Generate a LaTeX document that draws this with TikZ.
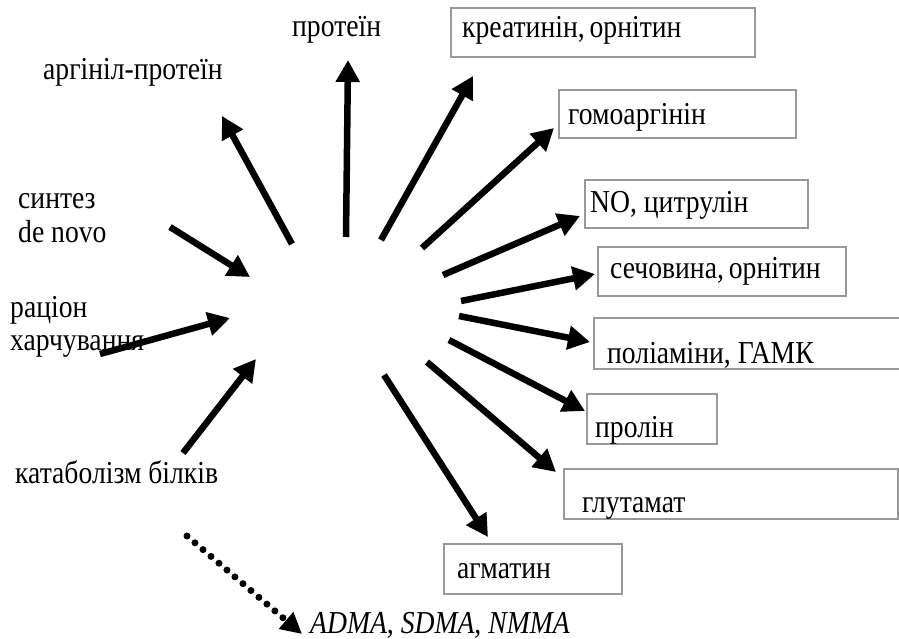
\documentclass[tikz,border=0pt]{standalone}
\usepackage{fontspec}
\usepackage{graphicx}
\setmainfont{Liberation Serif}
\usetikzlibrary{arrows.meta}
\newcommand{\stx}[1]{\scalebox{0.97}[1.12]{#1}}
\begin{document}
\begin{tikzpicture}[x=1pt,y=-1pt,
  arr/.style={line width=6.5pt,-{Triangle[length=22pt,width=23pt]}},
  dotarr/.style={line width=7pt,line cap=round,dash pattern=on 0pt off 10.5pt,-{Triangle[length=21pt,width=21pt]}},
  box/.style={draw=black!40,line width=1.6pt,inner sep=0pt},
  lbl/.style={anchor=base west,inner sep=0pt,font=\fontsize{28.5}{33}\selectfont}]
\useasboundingbox (0,0) rectangle (899,639);
% boxes
\node[box,minimum width=304pt,minimum height=49pt] (b1) at (603,32.5) {};
\node[box,minimum width=237pt,minimum height=48pt] (b2) at (677.5,114) {};
\node[box,minimum width=223pt,minimum height=48pt] (b3) at (696.5,204) {};
\node[box,minimum width=248pt,minimum height=49pt] (b4) at (722,271.5) {};
\node[box,minimum width=310pt,minimum height=51pt] (b5) at (749,343.5) {};
\node[box,minimum width=130pt,minimum height=50pt] (b6) at (652,419) {};
\node[box,minimum width=334pt,minimum height=50pt] (b7) at (731,494) {};
\node[box,minimum width=178pt,minimum height=50pt] (b8) at (533,569) {};
% labels
\node[lbl] (t0) at (292,37) {\stx{протеїн}};
\node[lbl] (ta) at (43,80) {\stx{аргініл-протеїн}};
\node[lbl] (ts1) at (18,208) {\stx{синтез}};
\node[lbl] (ts2) at (18,242) {\stx{de novo}};
\node[lbl] (tr1) at (10,317) {\stx{раціон}};
\node[lbl] (tr2) at (10,350) {\stx{харчування}};
\node[lbl] (tk) at (15,483) {\stx{катаболізм білків}};
\node[lbl,font=\fontsize{28.5}{33}\selectfont\itshape] (tm) at (310,633) {\stx{ADMA, SDMA, NMMA}};
\node[lbl] (t1) at (462,38) {\stx{креатинін,\kern-2pt\ орнітин}};
\node[lbl] (t2) at (568,125) {\stx{гомоаргінін}};
\node[lbl] (t3) at (590,212) {\stx{NO, цитрулін}};
\node[lbl] (t4) at (610,278) {\stx{сечовина,\kern-2pt\ орнітин}};
\node[lbl] (t5) at (607,363) {\stx{поліаміни, ГАМК}};
\node[lbl] (t6) at (595,437) {\stx{пролін}};
\node[lbl] (t7) at (582,512) {\stx{глутамат}};
\node[lbl] (t8) at (457,578) {\stx{агматин}};
% arrow ends
\coordinate (p0s) at (346,237); \coordinate (p0e) at (348,60);
\coordinate (pas) at (292,244); \coordinate (pae) at (222,116);
\coordinate (p1s) at (381,240); \coordinate (p1e) at (473,76);
\coordinate (p2s) at (422,248); \coordinate (p2e) at (554,128);
\coordinate (p3s) at (443,275); \coordinate (p3e) at (580,216);
\coordinate (p4s) at (461,301); \coordinate (p4e) at (595,274);
\coordinate (p5s) at (459,316); \coordinate (p5e) at (590,342);
\coordinate (p6s) at (449,340); \coordinate (p6e) at (585,411);
\coordinate (p7s) at (427,362); \coordinate (p7e) at (556,472);
\coordinate (p8s) at (384,375); \coordinate (p8e) at (488,537);
\coordinate (qss) at (170,227); \coordinate (qse) at (250,277);
\coordinate (qrs) at (100,354); \coordinate (qre) at (230,318);
\coordinate (qks) at (183,453); \coordinate (qke) at (256,359);
\coordinate (qms) at (187,536); \coordinate (qme) at (302,634);
% arrows
\draw[arr] (p0s) -- (p0e);
\draw[arr] (pas) -- (pae);
\draw[arr] (p1s) -- (p1e);
\draw[arr] (p2s) -- (p2e);
\draw[arr] (p3s) -- (p3e);
\draw[arr] (p4s) -- (p4e);
\draw[arr] (p5s) -- (p5e);
\draw[arr] (p6s) -- (p6e);
\draw[arr] (p7s) -- (p7e);
\draw[arr] (p8s) -- (p8e);
\draw[arr] (qss) -- (qse);
\draw[arr] (qrs) -- (qre);
\draw[arr] (qks) -- (qke);
\draw[dotarr] (qms) -- (qme);
\end{tikzpicture}
\end{document}
